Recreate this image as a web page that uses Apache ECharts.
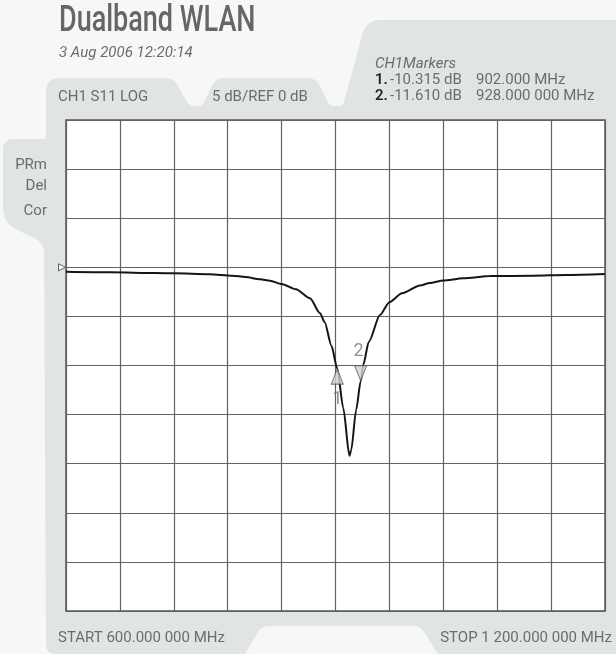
<!DOCTYPE html>
<html>
<head>
<meta charset="utf-8">
<script src="https://cdn.jsdelivr.net/npm/echarts@6/dist/echarts.min.js"></script>
<style>
html,body{margin:0;padding:0;background:#f6f7f6;}
#chart{width:616px;height:654px;}
</style>
</head>
<body>
<div id="chart"></div>
<script>
// ---- data ----
const title = 'Dualband WLAN';
const timestamp = '3 Aug 2006 12:20:14';
const channelLabel = 'CH1 S11 LOG';
const scaleLabel = '5 dB/REF 0 dB';
const sideLabels = ['PRm', 'Del', 'Cor'];
const startLabel = 'START 600.000 000 MHz';
const stopLabel = 'STOP 1 200.000 000 MHz';
const markerHeader = 'CH1Markers';

const freqMin = 600, freqMax = 1200, freqStep = 60;   // MHz
const dbMin = -35, dbMax = 15, dbStep = 5;            // dB, REF 0 dB

// trace (MHz, dB)
const freqs = [600, 650, 700, 720, 760, 785, 800, 816, 827, 840, 856, 871.6, 882.8, 888, 895.5, 902, 908.6, 915.5, 917.5, 923, 928, 931, 937, 949.5, 960, 974, 994, 1005, 1020, 1042, 1072, 1120, 1157, 1200];
const dbs   = [-0.45, -0.51, -0.58, -0.61, -0.71, -0.85, -0.99, -1.22, -1.36, -1.70, -2.24, -3.15, -4.68, -5.6, -8.0, -10.315, -14.3, -19.2, -18.6, -14.53, -11.61, -9.9, -7.6, -4.85, -3.55, -2.65, -1.85, -1.6, -1.35, -1.12, -0.89, -0.86, -0.78, -0.68];

// markers
const markerNames = ['1', '2'];
const markerFreqs = [902, 928];
const markerDbs = [-10.315, -11.610];
const markerDbText = ['-10.315 dB', '-11.610 dB'];
const markerFreqText = ['902.000 MHz', '928.000 000 MHz'];

// ---- chart ----
const chart = echarts.init(document.getElementById('chart'));
const txt = '#6c6c6c';
const ff = 'Roboto, "Liberation Sans", sans-serif';

// decorative panel outline: segments of L (line), Q (quadratic), C (cubic)
const panelSegs = [
  ['M', 46, 92], ['Q', 46, 78, 60, 78], ['L', 166, 78], ['Q', 174, 78, 178, 86], ['L', 187, 102],
  ['Q', 190, 106, 194, 106], ['L', 198, 106], ['Q', 202, 106, 204, 102], ['L', 212, 86],
  ['Q', 216, 78, 224, 78], ['L', 308, 78], ['Q', 316, 78, 320, 86], ['L', 328, 102],
  ['Q', 330, 106, 334, 106], ['L', 339, 106], ['Q', 343, 106, 344, 102], ['L', 363, 32],
  ['Q', 367, 20, 382, 20], ['L', 616, 20], ['L', 616, 654], ['L', 438, 654], ['L', 424, 632],
  ['Q', 420, 626, 413, 626], ['L', 269, 626], ['Q', 262, 626, 258, 632], ['L', 245, 654],
  ['L', 56, 654], ['Q', 46, 654, 46, 644], ['L', 44, 252], ['C', 44, 230, 3, 238, 3, 208],
  ['L', 3, 150], ['Q', 3, 139, 13, 139], ['L', 46, 139]
];
function segsToPoints(segs) {
  const pts = []; let cx = 0, cy = 0;
  segs.forEach(s => {
    if (s[0] === 'M' || s[0] === 'L') { cx = s[1]; cy = s[2]; pts.push([cx, cy]); }
    else if (s[0] === 'Q') {
      for (let k = 1; k <= 8; k++) { const t = k / 8, u = 1 - t;
        pts.push([u*u*cx + 2*u*t*s[1] + t*t*s[3], u*u*cy + 2*u*t*s[2] + t*t*s[4]]); }
      cx = s[3]; cy = s[4];
    } else if (s[0] === 'C') {
      for (let k = 1; k <= 16; k++) { const t = k / 16, u = 1 - t;
        pts.push([u*u*u*cx + 3*u*u*t*s[1] + 3*u*t*t*s[3] + t*t*t*s[5],
                  u*u*u*cy + 3*u*u*t*s[2] + 3*u*t*t*s[4] + t*t*t*s[6]]); }
      cx = s[5]; cy = s[6];
    }
  });
  return pts;
}

function label(text, x, y, opts) {
  return {
    type: 'text', x: x, y: y, z: 10,
    style: Object.assign({
      text: text, fill: txt, font: '15px ' + ff,
      textAlign: 'left', textVerticalAlign: 'middle'
    }, opts || {})
  };
}

const graphics = [
  {type: 'polygon', z: -10, silent: true, shape: {points: segsToPoints(panelSegs)}, style: {fill: '#e0e5e2'}},
  {type: 'text', x: 59, y: 22, scaleX: 0.73, z: 10,
   style: {text: title, fill: '#666', font: '500 37px ' + ff, textAlign: 'left', textVerticalAlign: 'middle'}},
  label(timestamp, 59, 53, {font: 'italic 15px ' + ff}),
  label(markerHeader, 375, 64, {font: 'italic 15px ' + ff}),
  label(channelLabel, 58, 97),
  label(scaleLabel, 212, 97),
  label(startLabel, 58, 638),
  label(stopLabel, 612, 638, {textAlign: 'right'})
];
sideLabels.forEach((s, i) => graphics.push(label(s, 47, [165, 186, 211][i], {textAlign: 'right'})));
markerNames.forEach((m, i) => {
  const y = 80 + i * 16;
  graphics.push(label(m + '.', 375, y, {fill: '#222', font: '600 15px ' + ff}));
  graphics.push(label(markerDbText[i], 390, y));
  graphics.push(label(markerFreqText[i], 476, y));
});

chart.setOption({
  animation: false,
  backgroundColor: '#f6f7f6',
  graphic: graphics,
  grid: {left: 66, top: 120, width: 539, height: 491, show: true, backgroundColor: '#fff', borderColor: '#555', borderWidth: 1.5},
  xAxis: {
    type: 'value', min: freqMin, max: freqMax, interval: freqStep,
    axisLabel: {show: false}, axisTick: {show: false}, axisLine: {show: false},
    splitLine: {show: true, lineStyle: {color: '#626262', width: 1.2}}
  },
  yAxis: {
    type: 'value', min: dbMin, max: dbMax, interval: dbStep,
    axisLabel: {show: false}, axisTick: {show: false}, axisLine: {show: false},
    splitLine: {show: true, lineStyle: {color: '#626262', width: 1.2}}
  },
  series: [
    {
      type: 'line', data: freqs.map((f, i) => [f, dbs[i]]),
      showSymbol: false, symbol: 'none', smooth: 0.25, smoothMonotone: 'x',
      lineStyle: {color: '#151515', width: 2}, z: 5
    },
    {
      type: 'scatter', clip: false, z: 6,
      data: [[markerFreqs[0], markerDbs[0]]],
      symbol: 'triangle', symbolSize: [12, 15], symbolOffset: [0, 8],
      itemStyle: {color: '#d3d3d3', borderColor: '#555', borderWidth: 1},
      label: {show: true, formatter: markerNames[0], position: 'bottom', distance: 0, offset: [0, 6], color: '#777', fontSize: 18, fontFamily: ff}
    },
    {
      type: 'scatter', clip: false, z: 6,
      data: [[markerFreqs[1], markerDbs[1]]],
      symbol: 'triangle', symbolRotate: 180, symbolSize: [12, 15], symbolOffset: [0, -8],
      itemStyle: {color: '#d3d3d3', borderColor: '#555', borderWidth: 1},
      label: {show: true, formatter: markerNames[1], position: 'top', distance: 0, offset: [-2, -5], color: '#777', fontSize: 18, fontFamily: ff}
    },
    {
      type: 'scatter', clip: false, z: 6,
      data: [[freqMin, 0]],
      symbol: 'triangle', symbolRotate: -90, symbolSize: [7, 7], symbolOffset: [-4, 0],
      itemStyle: {color: '#fff', borderColor: '#444', borderWidth: 1}
    }
  ]
});
</script>
</body>
</html>
